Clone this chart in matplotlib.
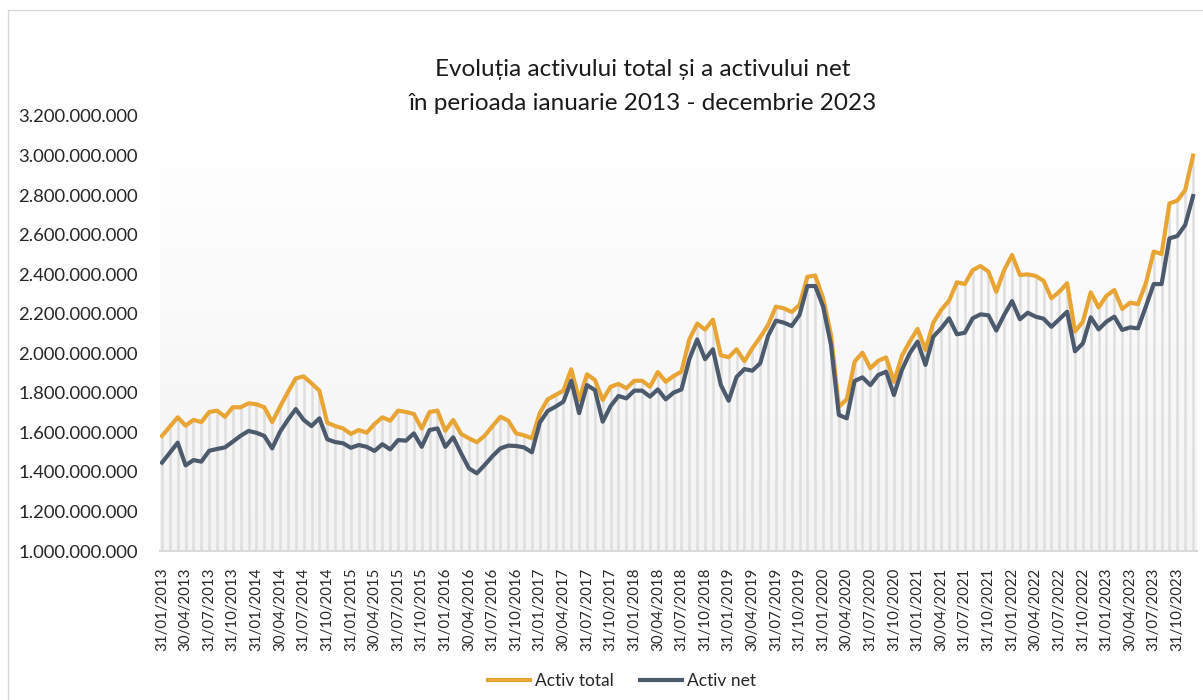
import matplotlib.pyplot as plt
import matplotlib.patches as patches
import numpy as np
import pandas as pd
from matplotlib.ticker import FuncFormatter
from matplotlib.colors import LinearSegmentedColormap

plt.rcParams['font.family'] = ['Lato', 'DejaVu Sans']

# monthly values, millions RON (Jan 2013 - Dec 2023)
activ_total = [
    1582, 1629, 1676, 1634, 1663, 1652, 1703, 1710, 1679, 1727, 1727, 1747,
    1742, 1727, 1652, 1730, 1804, 1873, 1883, 1848, 1811, 1649, 1632, 1620,
    1592, 1612, 1598, 1642, 1676, 1659, 1710, 1703, 1693, 1619, 1703, 1710,
    1608, 1663, 1592, 1570, 1550, 1583, 1632, 1679, 1659, 1595, 1585, 1570,
    1697, 1767, 1789, 1811, 1919, 1764, 1894, 1865, 1764, 1831, 1845, 1823,
    1861, 1861, 1831, 1905, 1856, 1885, 1907, 2070, 2150, 2120, 2170, 1990,
    1980, 2020, 1960, 2025, 2081, 2143, 2236, 2227, 2209, 2244, 2387, 2393,
    2278, 2093, 1730, 1767, 1958, 2003, 1924, 1962, 1979, 1856, 1986, 2059,
    2123, 2017, 2155, 2219, 2266, 2359, 2350, 2421, 2441, 2413, 2311, 2421,
    2497, 2396, 2399, 2391, 2367, 2278, 2311, 2354, 2110, 2160, 2308, 2232,
    2291, 2320, 2224, 2256, 2249, 2354, 2514, 2502, 2758, 2772, 2826, 3000,
]
activ_net = [
    1447, 1497, 1548, 1433, 1460, 1452, 1507, 1516, 1524, 1553, 1583, 1607,
    1598, 1582, 1519, 1603, 1663, 1718, 1663, 1632, 1671, 1565, 1551, 1545,
    1522, 1536, 1527, 1506, 1540, 1514, 1561, 1558, 1595, 1527, 1612, 1620,
    1527, 1575, 1494, 1418, 1393, 1435, 1480, 1519, 1533, 1531, 1524, 1499,
    1649, 1708, 1730, 1755, 1861, 1697, 1839, 1814, 1654, 1733, 1784, 1772,
    1811, 1811, 1781, 1817, 1767, 1801, 1817, 1970, 2070, 1970, 2020, 1840,
    1760, 1880, 1920, 1912, 1949, 2087, 2165, 2155, 2138, 2194, 2340, 2340,
    2236, 2042, 1688, 1671, 1860, 1878, 1839, 1890, 1907, 1789, 1915, 2000,
    2059, 1941, 2084, 2126, 2177, 2096, 2104, 2177, 2197, 2192, 2115, 2194,
    2264, 2172, 2205, 2185, 2175, 2134, 2172, 2210, 2010, 2050, 2182, 2121,
    2160, 2185, 2118, 2131, 2126, 2236, 2350, 2350, 2581, 2593, 2649, 2795,
]
dates = pd.date_range('2013-01-31', periods=len(activ_total), freq='ME')
date_labels = [d.strftime('%d/%m/%Y') for d in dates]

total = np.array(activ_total) * 1e6
net = np.array(activ_net) * 1e6
x = np.arange(len(total))

fig = plt.figure(figsize=(12.03, 7), dpi=100)
ax = fig.add_axes([160 / 1203, 1 - 551 / 700, 1037 / 1203, 435 / 700])

ymin, ymax = 1e9, 3.2e9
xmin, xmax = -0.25, 131.5
ax.set_xlim(xmin, xmax)
ax.set_ylim(ymin, ymax)

# soft gradient: white at the top, light grey at the bottom
grad = np.linspace(0, 1, 256).reshape(-1, 1)
cmap = LinearSegmentedColormap.from_list('g', ['#ffffff', '#f3f3f3'])
ax.imshow(grad, extent=[xmin, xmax, ymin, 3.08e9], aspect='auto',
          cmap=cmap, zorder=0, origin='upper')

# thin vertical stripes under the total line
ax.vlines(x, ymin, total, color='#dedede', lw=1.8, zorder=1)

ax.plot(x, total, color='#E8A533', lw=3, label='Activ total', zorder=3)
ax.plot(x, net, color='#4B5A6D', lw=3, label='Activ net', zorder=3)

ax.set_yticks(np.arange(1e9, 3.2e9 + 1, 2e8))
ax.yaxis.set_major_formatter(FuncFormatter(lambda v, p: f'{int(v):,}'.replace(',', '.')))
ax.set_xticks(x[::3])
ax.set_xticklabels(date_labels[::3], rotation=90)
ax.tick_params(axis='y', length=0, pad=16, labelsize=13.3, colors='#262626')
ax.tick_params(axis='x', length=0, pad=12, labelsize=10.8, colors='#262626')

for s in ['top', 'right', 'left']:
    ax.spines[s].set_visible(False)
ax.spines['bottom'].set_color('#d9d9d9')
ax.spines['bottom'].set_linewidth(1.5)

fig.text(643 / 1203, 1 - 70 / 700, 'Evoluția activului total și a activului net',
         ha='center', va='center', fontsize=17.5, color='#1a1a1a')
fig.text(643 / 1203, 1 - 103 / 700, 'în perioada ianuarie 2013 - decembrie 2023',
         ha='center', va='center', fontsize=17.5, color='#1a1a1a')

fig.legend(loc='center', bbox_to_anchor=(622 / 1203, 1 - 681 / 700), ncol=2,
           frameon=False, fontsize=12.5, handlelength=2.4, handletextpad=0.3,
           columnspacing=1.5, labelcolor='#262626')

fig.patches.append(patches.Rectangle((8 / 1203, -0.1), 1.1, 1.1 - 10 / 700,
                                     fill=False, ec='#d9d9d9', lw=1,
                                     transform=fig.transFigure))

fig.savefig('out.png', dpi=100)
